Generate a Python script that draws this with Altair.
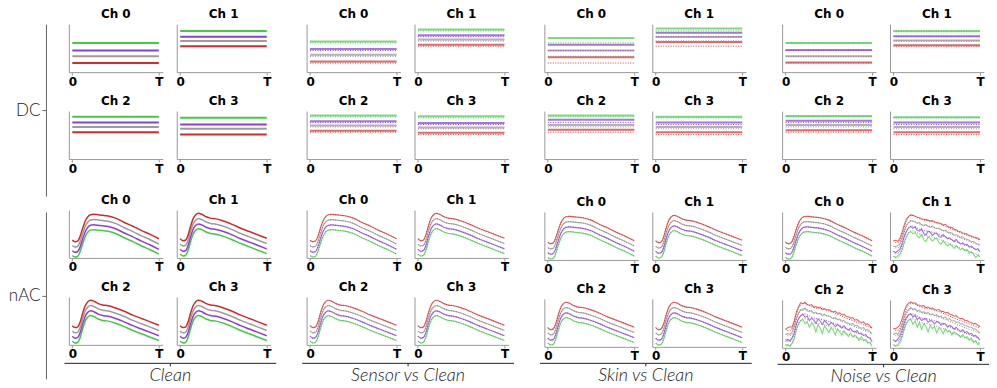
import altair as alt
import pandas as pd

GROUP_LABELS = ["Clean", "Sensor vs Clean", "Skin vs Clean", "Noise vs Clean"]
ROW_LABELS = ["\u00a0\u00a0DC", "nAC"]
CHANNELS = ["Ch 0", "Ch 1", "Ch 2", "Ch 3"]
SERIES = ["green", "purple", "gray", "red"]

# ---- DC levels, order: green, purple, gray, red ----
DC_CLEAN = {"Ch 0": [0.61, 0.45, 0.33, 0.19], "Ch 1": [0.86, 0.74, 0.65, 0.54],
            "Ch 2": [0.88, 0.76, 0.67, 0.56], "Ch 3": [0.86, 0.72, 0.63, 0.51]}
DC_SENSOR = {"Ch 0": [0.64, 0.48, 0.36, 0.22], "Ch 1": [0.89, 0.77, 0.68, 0.57],
             "Ch 2": [0.91, 0.79, 0.70, 0.59], "Ch 3": [0.89, 0.75, 0.66, 0.55]}
DC_SKIN = {"Ch 0": [0.71, 0.57, 0.45, 0.31], "Ch 1": [0.91, 0.82, 0.73, 0.63],
           "Ch 2": [0.91, 0.82, 0.71, 0.61], "Ch 3": [0.88, 0.76, 0.67, 0.56]}
DC_NOISE = {"Ch 0": [0.61, 0.46, 0.33, 0.20], "Ch 1": [0.85, 0.75, 0.66, 0.56],
            "Ch 2": [0.90, 0.80, 0.71, 0.60], "Ch 3": [0.87, 0.76, 0.67, 0.56]}
T_DC = [0.0, 1.0]

# ---- nAC smooth profiles ----
T_SMOOTH = [0.0, 0.03, 0.06, 0.09, 0.12, 0.15, 0.18, 0.21, 0.25, 0.3, 0.35, 0.4,
            0.5, 0.6, 0.7, 0.8, 0.9, 1.0]
NAC_CH0 = {
    "red":    [0.37, 0.34, 0.35, 0.45, 0.62, 0.77, 0.86, 0.90, 0.91, 0.90, 0.89, 0.88, 0.83, 0.74, 0.66, 0.57, 0.49, 0.40],
    "gray":   [0.26, 0.23, 0.24, 0.34, 0.51, 0.66, 0.75, 0.79, 0.80, 0.79, 0.78, 0.77, 0.72, 0.63, 0.55, 0.46, 0.38, 0.29],
    "purple": [0.15, 0.12, 0.13, 0.23, 0.40, 0.55, 0.64, 0.68, 0.69, 0.68, 0.67, 0.66, 0.61, 0.52, 0.44, 0.35, 0.27, 0.18],
    "green":  [0.05, 0.02, 0.03, 0.13, 0.30, 0.45, 0.54, 0.58, 0.59, 0.58, 0.57, 0.56, 0.51, 0.42, 0.34, 0.25, 0.17, 0.08],
}
NAC_CH123 = {
    "red":    [0.40, 0.36, 0.37, 0.47, 0.66, 0.82, 0.90, 0.93, 0.91, 0.86, 0.83, 0.82, 0.77, 0.70, 0.62, 0.55, 0.48, 0.41],
    "gray":   [0.29, 0.25, 0.26, 0.36, 0.55, 0.71, 0.79, 0.82, 0.80, 0.75, 0.72, 0.71, 0.66, 0.59, 0.51, 0.44, 0.37, 0.30],
    "purple": [0.18, 0.14, 0.15, 0.25, 0.44, 0.60, 0.68, 0.71, 0.69, 0.64, 0.61, 0.60, 0.55, 0.48, 0.40, 0.33, 0.26, 0.19],
    "green":  [0.08, 0.04, 0.05, 0.15, 0.34, 0.50, 0.58, 0.61, 0.59, 0.54, 0.51, 0.50, 0.45, 0.38, 0.30, 0.23, 0.16, 0.09],
}

# ---- nAC noisy profiles (Noise vs Clean, Ch 1-3) ----
T_NOISE = [0.0, 0.025, 0.05, 0.075, 0.1, 0.125, 0.15, 0.175, 0.2, 0.225, 0.25, 0.275, 0.3, 0.325,
           0.35, 0.375, 0.4, 0.425, 0.45, 0.475, 0.5, 0.525, 0.55, 0.575, 0.6, 0.625, 0.65, 0.675,
           0.7, 0.725, 0.75, 0.775, 0.8, 0.825, 0.85, 0.875, 0.9, 0.925, 0.95, 0.975, 1.0]
NOISE_CH1 = {
    "red":    [0.40, 0.41, 0.39, 0.45, 0.58, 0.73, 0.85, 0.91, 0.94, 0.93, 0.91, 0.89, 0.88, 0.86, 0.85, 0.84, 0.83, 0.81, 0.82, 0.79, 0.78, 0.77, 0.76, 0.73, 0.74, 0.70, 0.68, 0.68, 0.64, 0.63, 0.60, 0.59, 0.56, 0.55, 0.54, 0.51, 0.50, 0.48, 0.47, 0.45, 0.42],
    "gray":   [0.29, 0.28, 0.30, 0.34, 0.47, 0.61, 0.72, 0.78, 0.82, 0.80, 0.79, 0.76, 0.78, 0.73, 0.72, 0.74, 0.70, 0.68, 0.71, 0.67, 0.65, 0.67, 0.63, 0.61, 0.62, 0.58, 0.57, 0.56, 0.52, 0.53, 0.50, 0.47, 0.48, 0.44, 0.43, 0.41, 0.38, 0.39, 0.35, 0.33, 0.31],
    "purple": [0.18, 0.15, 0.19, 0.23, 0.34, 0.50, 0.60, 0.67, 0.70, 0.66, 0.69, 0.62, 0.60, 0.65, 0.55, 0.52, 0.60, 0.58, 0.51, 0.55, 0.56, 0.49, 0.47, 0.53, 0.48, 0.44, 0.46, 0.42, 0.38, 0.43, 0.37, 0.33, 0.36, 0.31, 0.33, 0.27, 0.29, 0.25, 0.21, 0.24, 0.17],
    "green":  [0.08, 0.05, 0.09, 0.12, 0.22, 0.36, 0.48, 0.56, 0.59, 0.55, 0.57, 0.50, 0.46, 0.53, 0.42, 0.38, 0.48, 0.45, 0.39, 0.44, 0.45, 0.36, 0.33, 0.40, 0.34, 0.29, 0.33, 0.30, 0.24, 0.30, 0.25, 0.21, 0.25, 0.19, 0.22, 0.14, 0.17, 0.12, 0.05, 0.10, 0.06],
}
NOISE_CH2 = {
    "red":    [0.38, 0.42, 0.44, 0.43, 0.56, 0.75, 0.86, 0.94, 0.92, 0.95, 0.90, 0.89, 0.90, 0.85, 0.86, 0.84, 0.85, 0.80, 0.82, 0.79, 0.80, 0.77, 0.75, 0.76, 0.72, 0.73, 0.69, 0.70, 0.66, 0.65, 0.62, 0.63, 0.58, 0.59, 0.55, 0.53, 0.54, 0.49, 0.50, 0.46, 0.41],
    "gray":   [0.27, 0.30, 0.28, 0.33, 0.46, 0.62, 0.73, 0.80, 0.78, 0.83, 0.77, 0.76, 0.78, 0.72, 0.74, 0.71, 0.72, 0.67, 0.70, 0.66, 0.67, 0.64, 0.61, 0.63, 0.59, 0.60, 0.56, 0.57, 0.53, 0.52, 0.49, 0.51, 0.46, 0.47, 0.43, 0.41, 0.42, 0.37, 0.38, 0.34, 0.29],
    "purple": [0.13, 0.18, 0.14, 0.21, 0.31, 0.50, 0.61, 0.67, 0.70, 0.64, 0.66, 0.57, 0.62, 0.58, 0.51, 0.60, 0.56, 0.49, 0.57, 0.52, 0.47, 0.53, 0.50, 0.44, 0.49, 0.45, 0.41, 0.46, 0.40, 0.37, 0.41, 0.35, 0.33, 0.36, 0.30, 0.31, 0.26, 0.28, 0.22, 0.20, 0.13],
    "green":  [0.04, 0.07, 0.03, 0.10, 0.19, 0.38, 0.50, 0.57, 0.59, 0.50, 0.55, 0.43, 0.52, 0.47, 0.33, 0.49, 0.41, 0.30, 0.46, 0.39, 0.32, 0.42, 0.37, 0.27, 0.40, 0.33, 0.26, 0.36, 0.29, 0.24, 0.31, 0.23, 0.27, 0.22, 0.16, 0.23, 0.15, 0.18, 0.10, 0.11, 0.03],
}
NOISE_CH3 = {
    "red":    [0.41, 0.40, 0.43, 0.48, 0.61, 0.77, 0.88, 0.93, 0.96, 0.93, 0.94, 0.90, 0.89, 0.87, 0.88, 0.84, 0.85, 0.82, 0.83, 0.80, 0.79, 0.80, 0.76, 0.76, 0.73, 0.74, 0.70, 0.69, 0.66, 0.67, 0.63, 0.61, 0.61, 0.57, 0.57, 0.54, 0.53, 0.50, 0.51, 0.47, 0.44],
    "gray":   [0.28, 0.31, 0.28, 0.36, 0.48, 0.64, 0.75, 0.80, 0.84, 0.79, 0.82, 0.76, 0.79, 0.74, 0.75, 0.72, 0.74, 0.69, 0.71, 0.67, 0.69, 0.65, 0.66, 0.62, 0.64, 0.59, 0.61, 0.56, 0.57, 0.53, 0.54, 0.50, 0.50, 0.46, 0.46, 0.43, 0.43, 0.39, 0.39, 0.35, 0.31],
    "purple": [0.16, 0.13, 0.18, 0.25, 0.37, 0.53, 0.63, 0.69, 0.71, 0.64, 0.68, 0.59, 0.63, 0.57, 0.60, 0.61, 0.53, 0.57, 0.55, 0.50, 0.55, 0.53, 0.47, 0.51, 0.50, 0.43, 0.47, 0.44, 0.39, 0.43, 0.38, 0.34, 0.38, 0.32, 0.34, 0.29, 0.30, 0.25, 0.26, 0.21, 0.16],
    "green":  [0.06, 0.03, 0.07, 0.13, 0.25, 0.41, 0.52, 0.58, 0.60, 0.49, 0.56, 0.43, 0.53, 0.38, 0.50, 0.45, 0.33, 0.47, 0.40, 0.44, 0.31, 0.42, 0.38, 0.29, 0.40, 0.33, 0.36, 0.27, 0.33, 0.30, 0.27, 0.22, 0.28, 0.21, 0.23, 0.16, 0.20, 0.11, 0.15, 0.07, 0.09],
}

# ---- colours ----
SOLID_CLEAN = {"green": "#3fcc3f", "purple": "#8a3fd6", "gray": "#9c9c9c", "red": "#d32a2a"}
SOLID_COND = {"green": "#7fd97f", "purple": "#a673e0", "gray": "#b2b2b2", "red": "#e06a6a"}
DOTTED = {"green": "#4cc24c", "purple": "#8c4ad6", "gray": "#8a8a8a", "red": "#d43c3c"}

PW, PH = 94, 48
BOLD = "DejaVu Sans"
LIGHT = "Lato"


def series_df(values_by_series, t, palette):
    rows = []
    for s in SERIES:
        for ti, v in zip(t, values_by_series[s]):
            rows.append({"s": s, "t": ti, "v": v, "c": palette[s]})
    return pd.DataFrame(rows)


def dc_dict(levels):
    return {s: [levels[i], levels[i]] for i, s in enumerate(SERIES)}


X_ENC = alt.X("t:Q", title=None,
              scale=alt.Scale(domain=[-0.04, 1.045], nice=False, zero=False),
              axis=alt.Axis(values=[0, 1], labelExpr="datum.value == 0 ? '0' : 'T'",
                            grid=False, tickSize=3, labelPadding=1, labelFlush=False,
                            labelFont=BOLD, labelFontWeight="bold", labelFontSize=12,
                            labelColor="#000", domainColor="#9a9a9a", tickColor="#9a9a9a"))
Y_ENC = alt.Y("v:Q", title=None, scale=alt.Scale(domain=[0, 1], nice=False),
              axis=alt.Axis(labels=False, ticks=False, grid=False, domainColor="#9a9a9a"))


def panel(title, cond_df, clean_df, lw, interp="monotone"):
    layers = [alt.Chart(cond_df).mark_line(strokeWidth=lw, interpolate=interp).encode(
        x=X_ENC, y=Y_ENC, color=alt.Color("c:N", scale=None), detail="s:N")]
    if clean_df is not None:
        layers.append(alt.Chart(clean_df).mark_line(strokeWidth=1, strokeDash=[1, 1.5],
                                                     interpolate="monotone").encode(
            x=X_ENC, y=Y_ENC, color=alt.Color("c:N", scale=None), detail="s:N"))
    return alt.layer(*layers).properties(
        width=PW, height=PH,
        title=alt.TitleParams(title, font=BOLD, fontWeight="bold", fontSize=12, offset=3,
                              anchor="middle", color="#000"))


DC_BY_GROUP = [DC_CLEAN, DC_SENSOR, DC_SKIN, DC_NOISE]


def dc_panel(g, ch):
    levels = DC_BY_GROUP[g][ch]
    if g == 0:
        return panel(ch, series_df(dc_dict(levels), T_DC, SOLID_CLEAN), None, 2)
    return panel(ch, series_df(dc_dict(levels), T_DC, SOLID_COND),
                 series_df(dc_dict(DC_CLEAN[ch]), T_DC, DOTTED), 2)


def nac_panel(g, ch):
    clean_vals = NAC_CH0 if ch == "Ch 0" else NAC_CH123
    if g == 0:
        return panel(ch, series_df(clean_vals, T_SMOOTH, SOLID_CLEAN), None, 1.5)
    clean_df = series_df(clean_vals, T_SMOOTH, DOTTED)
    if g == 3 and ch != "Ch 0":
        noisy = {"Ch 1": NOISE_CH1, "Ch 2": NOISE_CH2, "Ch 3": NOISE_CH3}[ch]
        return panel(ch, series_df(noisy, T_NOISE, SOLID_COND), clean_df, 1.1, "linear")
    return panel(ch, series_df(clean_vals, T_SMOOTH, SOLID_COND), clean_df, 1.2)


def block(maker, g):
    return alt.vconcat(
        alt.hconcat(maker(g, "Ch 0"), maker(g, "Ch 1"), spacing=12),
        alt.hconcat(maker(g, "Ch 2"), maker(g, "Ch 3"), spacing=12),
        spacing=8)


def bottom_axis(label):
    return alt.Chart(pd.DataFrame({"t": [0.5]})).mark_point(opacity=0, size=1).encode(
        x=alt.X("t:Q", title=None, scale=alt.Scale(domain=[0, 1]),
                axis=alt.Axis(values=[0.5], labelExpr="'" + label + "'", grid=False,
                              tickSize=3, labelPadding=1, labelFont=LIGHT, labelFontWeight=300,
                              labelFontStyle="italic", labelFontSize=18, labelColor="#222",
                              domainColor="#222", tickColor="#222"))
    ).properties(width=212, height=1)


def side_axis(label, h):
    return alt.Chart(pd.DataFrame({"v": [0.5]})).mark_point(opacity=0, size=1).encode(
        y=alt.Y("v:Q", title=None, scale=alt.Scale(domain=[0, 1]),
                axis=alt.Axis(values=[0.5], labelExpr="'" + label + "'", grid=False,
                              tickSize=4, labelPadding=2, labelFont=LIGHT, labelFontWeight=300,
                              labelFontSize=17, labelColor="#222", labelLimit=200,
                              domainColor="#666", tickColor="#666"))
    ).properties(width=1, height=h)


groups = []
for g, label in enumerate(GROUP_LABELS):
    shifted = g >= 2
    lower = alt.vconcat(block(nac_panel, g), bottom_axis(label),
                        spacing=0 if shifted else 2, center=True)
    groups.append(alt.vconcat(block(dc_panel, g), lower,
                              spacing=22 if shifted else 20, center=True))

left_col = alt.vconcat(side_axis(ROW_LABELS[0], 172), side_axis(ROW_LABELS[1], 167),
                       spacing=16)

chart = alt.hconcat(
    left_col,
    alt.hconcat(*groups, spacing=26),
    spacing=17,
).properties(padding={"left": 0, "top": 0, "right": 0, "bottom": 0}
).configure_view(stroke=None)

chart.save("out.html", embed_options={"renderer": "svg", "actions": False})
